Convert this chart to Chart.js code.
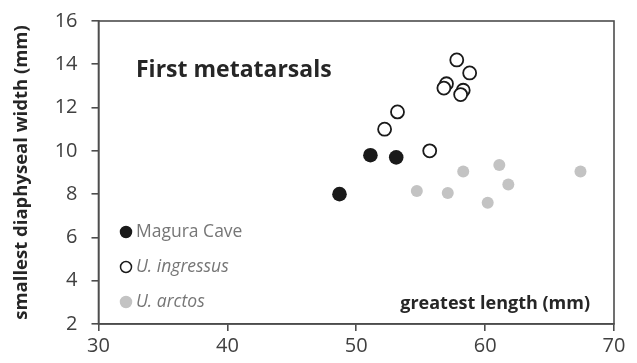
<!DOCTYPE html>
<html>
<head>
<meta charset="utf-8">
<script src="https://cdn.jsdelivr.net/npm/chart.js@4"></script>
<style>
  html, body { margin: 0; padding: 0; background: #fff; }
  #wrap { width: 637px; height: 363px; }
</style>
</head>
<body>
<div id="wrap"><canvas id="chart" width="637" height="363"></canvas></div>
<script>
// data
const seriesNames = ["Magura Cave", "U. ingressus", "U. arctos"];
const maguraX = [48.7, 51.1, 53.1];
const maguraY = [8.0, 9.8, 9.7];
const ingressusX = [57.8, 58.8, 57.0, 56.8, 58.3, 58.1, 53.2, 52.2, 55.7];
const ingressusY = [14.2, 13.6, 13.1, 12.9, 12.8, 12.6, 11.8, 11.0, 10.0];
const arctosX = [58.3, 61.1, 54.7, 57.1, 61.8, 60.2, 67.4];
const arctosY = [9.05, 9.35, 8.15, 8.05, 8.45, 7.6, 9.05];
const xTicks = [30, 40, 50, 60, 70];
const yTicks = [2, 4, 6, 8, 10, 12, 14, 16];

const FONT = "'Open Sans', sans-serif";
const AXIS = "#4d4d4d";

function pts(xs, ys) {
  return xs.map((x, i) => ({ x: x, y: ys[i] }));
}

// frame, chart title, legend and x title drawn inside the plot area
const inPlot = {
  id: "inPlot",
  beforeDatasetsDraw(chart) {
    const c = chart.ctx, a = chart.chartArea;
    c.save();
    c.strokeStyle = AXIS;
    c.lineWidth = 1.6;
    c.strokeRect(a.left, a.top, a.right - a.left, a.bottom - a.top);
    c.restore();
  },
  afterDraw(chart) {
    const c = chart.ctx;
    c.save();
    c.textBaseline = "middle";
    c.fillStyle = "#262626";
    c.font = "bold 23px " + FONT;
    c.fillText("First metatarsals", 136, 70);
    c.font = "bold 18px " + FONT;
    c.textAlign = "right";
    c.fillText("greatest length (mm)", 590, 304);
    c.textAlign = "left";

    const rows = [
      { y: 232, fill: "#1a1a1a", stroke: "#1a1a1a", italic: false },
      { y: 267, fill: "#ffffff", stroke: "#1a1a1a", italic: true },
      { y: 302, fill: "#c3c3c3", stroke: "#c3c3c3", italic: true }
    ];
    rows.forEach((r, i) => {
      c.beginPath();
      c.arc(126, r.y, 5.5, 0, Math.PI * 2);
      c.fillStyle = r.fill;
      c.fill();
      c.lineWidth = 1.5;
      c.strokeStyle = r.stroke;
      c.stroke();
      c.fillStyle = "#767676";
      c.font = (r.italic ? "italic " : "") + "17.5px " + FONT;
      c.fillText(seriesNames[i], 136, r.y);
    });
    c.restore();
  }
};

new Chart(document.getElementById("chart"), {
  type: "scatter",
  data: {
    datasets: [
      {
        label: seriesNames[2],
        data: pts(arctosX, arctosY),
        backgroundColor: "#c3c3c3",
        borderColor: "#c3c3c3",
        borderWidth: 0,
        pointRadius: 6
      },
      {
        label: seriesNames[1],
        data: pts(ingressusX, ingressusY),
        backgroundColor: "#ffffff",
        borderColor: "#1a1a1a",
        borderWidth: 1.8,
        pointRadius: 6.5
      },
      {
        label: seriesNames[0],
        data: pts(maguraX, maguraY),
        backgroundColor: "#1a1a1a",
        borderColor: "#1a1a1a",
        borderWidth: 0,
        pointRadius: 7.3
      }
    ]
  },
  options: {
    responsive: false,
    animation: false,
    layout: { padding: { top: 21, right: 23, left: 0, bottom: 0 } },
    plugins: {
      legend: { display: false },
      tooltip: { enabled: false }
    },
    scales: {
      x: {
        type: "linear",
        min: 30,
        max: 70,
        afterBuildTicks: (s) => { s.ticks = xTicks.map(v => ({ value: v })); },
        afterFit: (s) => { s.height = 39; },
        grid: { drawOnChartArea: false, drawTicks: true, tickLength: 7, color: AXIS, lineWidth: 1.6 },
        border: { color: AXIS, width: 1.6 },
        ticks: { color: "#404040", font: { family: FONT, size: 20 }, padding: 3, maxRotation: 0 }
      },
      y: {
        type: "linear",
        min: 2,
        max: 16,
        afterBuildTicks: (s) => { s.ticks = yTicks.map(v => ({ value: v })); },
        // fixed width, and no extra room above/below for the end labels
        afterFit: (s) => { s.width = 98.5; s.paddingTop = 0; s.paddingBottom = 0; },
        grid: { drawOnChartArea: false, drawTicks: true, tickLength: 7, color: AXIS, lineWidth: 1.6 },
        border: { color: AXIS, width: 1.6 },
        ticks: { color: "#404040", font: { family: FONT, size: 20 }, padding: 14 },
        title: {
          display: true,
          text: "smallest diaphyseal width (mm)",
          color: "#262626",
          font: { family: FONT, size: 18.5, weight: "bold" },
          padding: { top: 11, bottom: 0 }
        }
      }
    }
  },
  plugins: [inPlot]
});
</script>
</body>
</html>
